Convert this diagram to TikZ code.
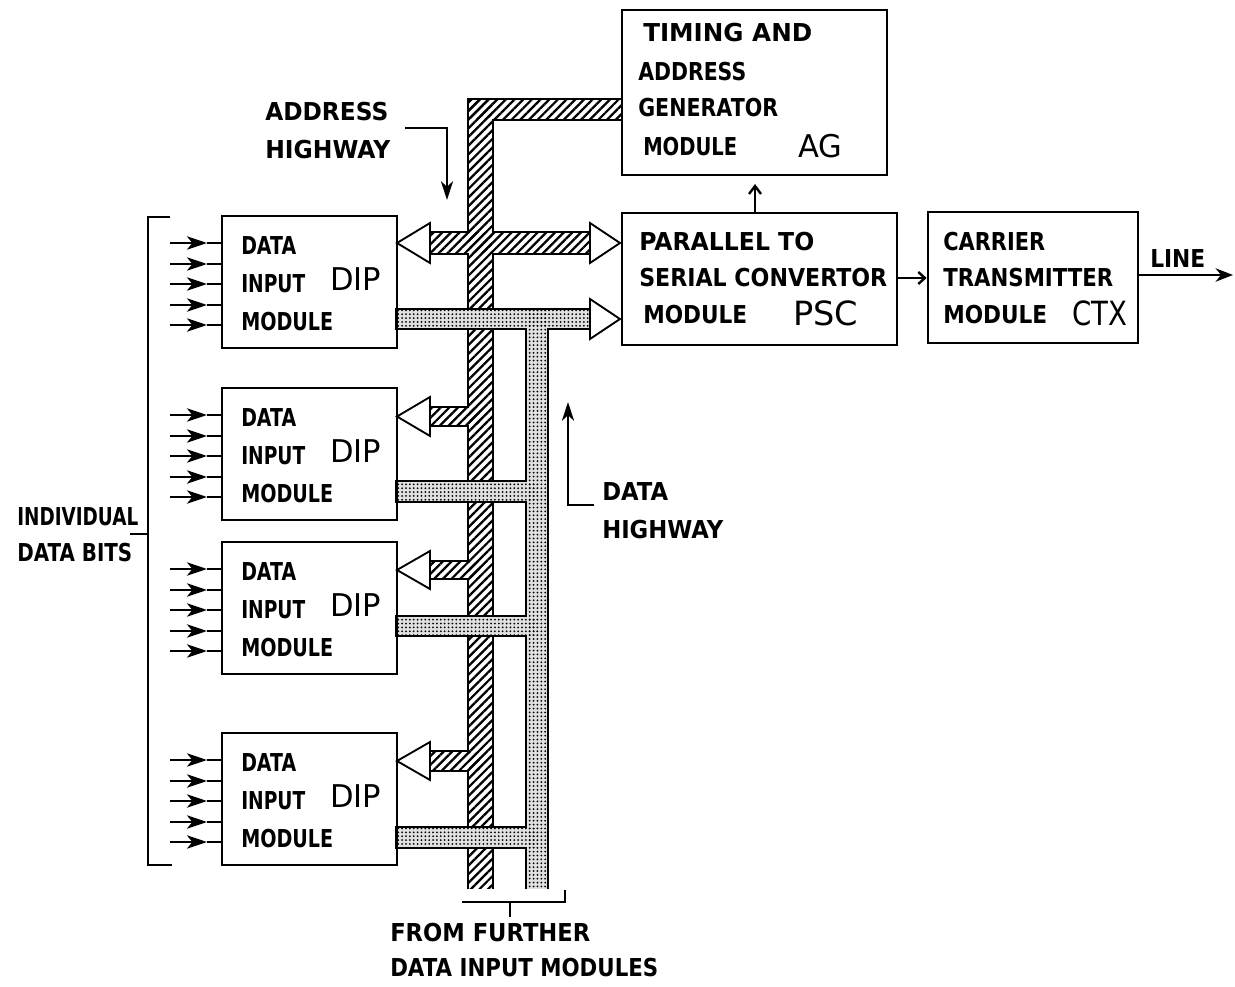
\documentclass[tikz,border=0pt]{standalone}
\usepackage{fontspec}
\usepackage{graphicx}
\setmainfont{DejaVu Sans}
\usetikzlibrary{arrows.meta,patterns.meta,fit}
\newdimen\pxu \pxu=0.75pt
\newcommand{\tx}[2]{\resizebox{#1\pxu}{\height}{#2}}
\begin{document}
\begin{tikzpicture}[x=0.75pt,y=-0.75pt,
  box/.style={draw, line width=1.9pt, inner sep=0pt},
  lbl/.style={anchor=west, inner sep=0pt, font=\fontsize{18.5}{20}\selectfont\bfseries},
  big/.style={anchor=west, inner sep=0pt, font=\fontsize{23.5}{25}\selectfont},
  bigger/.style={anchor=west, inner sep=0pt, font=\fontsize{25}{27}\selectfont},
  conn/.style={line width=1.8pt},
  bittip/.style={line width=1.8pt, -{Stealth[length=15pt,width=10pt,inset=4pt]}},
  hatchfill/.style={pattern={Lines[angle=45,distance=4.6pt,line width=1.7pt]}},
  dotfill/.style={pattern={Dots[radius=0.75pt,distance=2.9pt]}},
  tri/.style={draw, fill=white, line width=1.4pt, line join=miter},
  busedge/.style={line width=3.4pt}
]
\useasboundingbox (0,0) rectangle (1235,987);

% ---------------- address highway (hatched) ----------------
\begin{scope}
\clip (0,0) rectangle (1235,888);
\def\addrrects{469/100/492/900, 469/100/621/119, 430/233/590/253, 430/408/480/425, 430/562/480/578, 430/752/480/770}
\foreach \a/\b/\c/\d in \addrrects {\draw[busedge] (\a,\b) rectangle (\c,\d);}
\foreach \a/\b/\c/\d in \addrrects {\fill[white] (\a,\b) rectangle (\c,\d);}
\foreach \a/\b/\c/\d in \addrrects {\fill[hatchfill] (\a,\b) rectangle (\c,\d);}
% ---------------- data highway (stippled) ----------------
\def\datarects{527/310/547/900, 397/310/590/328, 397/482/537/501, 397/617/537/635, 397/828/537/847}
\foreach \a/\b/\c/\d in \datarects {\draw[busedge] (\a,\b) rectangle (\c,\d);}
\foreach \a/\b/\c/\d in \datarects {\fill[black!12] (\a,\b) rectangle (\c,\d);}
\foreach \a/\b/\c/\d in \datarects {\fill[dotfill] (\a,\b) rectangle (\c,\d);}
\end{scope}

% ---------------- data input modules ----------------
\foreach \t/\n in {216/1,388/2,542/3,733/4}{
  \node[box, fit={(222,\t) (397,{\t+132})}] (dip\n) {};
  \node[lbl] (dipa\n) at (241,{\t+30}) {\tx{55}{DATA}};
  \node[lbl] (dipb\n) at (241,{\t+68}) {\tx{64}{INPUT}};
  \node[lbl] (dipc\n) at (241,{\t+106}) {\tx{92}{MODULE}};
  \node[big] (dipd\n) at (330,{\t+63}) {\tx{51}{DIP}};
  \foreach \k in {0,...,4}{
    \coordinate (bs) at (170,{round(\t+27+20.5*\k)});
    \coordinate (bm) at (207,{round(\t+27+20.5*\k)});
    \draw[bittip] (bs) -- (bm);
    \draw[conn] (bm) -- (dip\n.west |- bm);
  }
}

% address arrows to modules
\draw[tri] (397,243) -- (430,223) -- (430,263) -- cycle;
\draw[tri] (590,223) -- (620,243) -- (590,263) -- cycle;
\draw[tri] (397,416.5) -- (430,397) -- (430,436) -- cycle;
\draw[tri] (397,570) -- (430,551) -- (430,589) -- cycle;
\draw[tri] (397,761) -- (430,742) -- (430,780) -- cycle;
% data arrow into PSC
\draw[tri] (590,299) -- (620,319) -- (590,339) -- cycle;

% ---------------- AG ----------------
\node[box, fit={(622,10) (887,175)}] (ag) {};
\node[lbl] (ag1) at (643,33) {\tx{169}{TIMING AND}};
\node[lbl] (ag2) at (638,72) {\tx{108}{ADDRESS}};
\node[lbl] (ag3) at (638,108) {\tx{140}{GENERATOR}};
\node[lbl] (ag4) at (643,147) {\tx{94}{MODULE}};
\node[big] (ag5) at (798,146) {\tx{44}{AG}};

% ---------------- PSC ----------------
\node[box, fit={(622,213) (897,345)}] (psc) {};
\node[lbl] (psc1) at (639,242) {\tx{175}{PARALLEL TO}};
\node[lbl] (psc2) at (639,278) {\tx{248}{SERIAL CONVERTOR}};
\node[lbl] (psc3) at (643,315) {\tx{104}{MODULE}};
\node[bigger] (psc4) at (793,313) {\tx{65}{PSC}};

% ---------------- CTX ----------------
\node[box, fit={(928,212) (1138,343)}] (ctx) {};
\node[lbl] (ctx1) at (943,242) {\tx{102}{CARRIER}};
\node[lbl] (ctx2) at (943,278) {\tx{170}{TRANSMITTER}};
\node[lbl] (ctx3) at (943,315) {\tx{104}{MODULE}};
\node[bigger] (ctx4) at (1072,313) {\tx{55}{CTX}};

% connectors
\coordinate (agin) at (755,184);
\draw[conn,-{Straight Barb[length=6pt,width=9pt]}] (psc.north -| agin) -- (agin);
\draw[conn,-{Straight Barb[length=5pt,width=9pt]}] (psc.east |- 0,278) -- (ctx.west |- 0,278);
\coordinate (lineend) at (1233,275);
\draw[conn,-{Stealth[length=13pt,width=10pt,inset=4pt]}] (ctx.east |- lineend) -- (lineend);
\node[lbl] (linelbl) at (1150,259) {\tx{55}{LINE}};

% address highway label
\node[lbl] (ah1) at (265,112) {\tx{123}{ADDRESS}};
\node[lbl] (ah2) at (265,150) {\tx{125}{HIGHWAY}};
\coordinate (ahs) at (405,128);
\coordinate (ahe) at (447,200);
\draw[conn,-{Stealth[length=14pt,width=9pt,inset=4pt]}] (ahs) -| (ahe);

% data highway label
\node[lbl] (dh1) at (602,492) {\tx{66}{DATA}};
\node[lbl] (dh2) at (602,530) {\tx{121}{HIGHWAY}};
\coordinate (dhs) at (594,505);
\coordinate (dhe) at (568,402);
\draw[conn,-{Stealth[length=14pt,width=9pt,inset=4pt]}] (dhs) -| (dhe);

% individual data bits bracket
\draw[conn] (170,217) -- (148,217) -- (148,865) -- (172,865);
\draw[conn] (130,534) -- (148,534);
\node[lbl] (idb1) at (17,517) {\tx{121}{INDIVIDUAL}};
\node[lbl] (idb2) at (17,553) {\tx{115}{DATA BITS}};

% further modules bracket
\draw[conn] (462,902) -- (565,902) -- (565,890);
\draw[conn] (510,902) -- (510,917);
\node[lbl] (ff1) at (390,933) {\tx{200}{FROM FURTHER}};
\node[lbl] (ff2) at (390,968) {\tx{268}{DATA INPUT MODULES}};
\end{tikzpicture}
\end{document}
